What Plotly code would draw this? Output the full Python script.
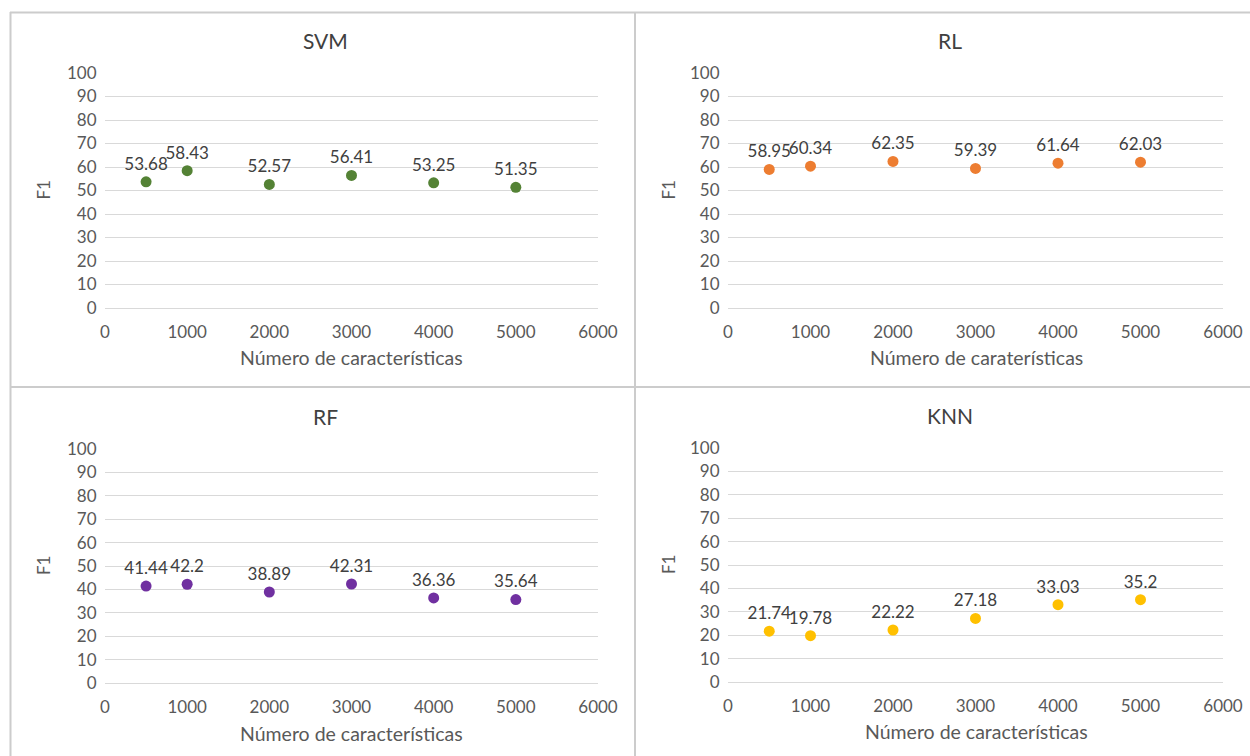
import plotly.graph_objects as go

W, H = 1250, 756

features = [500, 1000, 2000, 3000, 4000, 5000]
svm_f1 = [53.68, 58.43, 52.57, 56.41, 53.25, 51.35]
rl_f1 = [58.95, 60.34, 62.35, 59.39, 61.64, 62.03]
rf_f1 = [41.44, 42.2, 38.89, 42.31, 36.36, 35.64]
knn_f1 = [21.74, 19.78, 22.22, 27.18, 33.03, 35.2]

titles = ["SVM", "RL", "RF", "KNN"]
xtitles = ["Número de características", "Número de caraterísticas",
           "Número de características", "Número de características"]
ytitle = "F1"
colors = ["#548235", "#ED7D31", "#7030A0", "#FFC000"]
series = [svm_f1, rl_f1, rf_f1, knn_f1]

FONT = "Lato, Open Sans, sans-serif"
TICK_COLOR = "#595959"
GRID = "#d9d9d9"


def px_x(p):
    return p / W


def px_y(p):
    return 1 - p / H


# plot areas in pixels: (x0, x1, ytop, ybottom)
areas = [
    (105, 598, 73, 308),
    (728, 1223, 73, 308),
    (105, 598, 449, 683),
    (728, 1223, 448, 682),
]
# title / axis-title pixel positions: (title_x, title_y, xtitle_x, xtitle_y, ytitle_x)
labels_pos = [
    (325, 41, 351, 357, 43),
    (950, 41, 976, 357, 668),
    (325, 416, 351, 733, 43),
    (950, 415, 976, 731, 668),
]

fig = go.Figure()
annotations = []
layout_axes = {}
for i in range(4):
    n = "" if i == 0 else str(i + 1)
    x0, x1, yt, yb = areas[i]
    fig.add_trace(go.Scatter(
        x=features, y=series[i], mode="markers+text",
        text=[f"{v:g}" for v in series[i]], textposition="top center",
        textfont=dict(family=FONT, size=17, color="#404040"),
        marker=dict(size=11, color=colors[i]),
        xaxis="x" + n, yaxis="y" + n, showlegend=False, cliponaxis=False,
        hoverinfo="x+y",
    ))
    layout_axes["xaxis" + n] = dict(
        domain=[px_x(x0), px_x(x1)], anchor="y" + n, automargin=False,
        range=[0, 6000], dtick=1000, tick0=0, showgrid=False, zeroline=False,
        showline=False, ticks="outside", ticklen=9, tickcolor="rgba(0,0,0,0)",
        tickfont=dict(family=FONT, size=17, color=TICK_COLOR),
    )
    layout_axes["yaxis" + n] = dict(
        domain=[px_y(yb), px_y(yt)], anchor="x" + n, automargin=False,
        range=[0, 100], dtick=10, tick0=0, showgrid=True, gridcolor=GRID,
        gridwidth=1, zeroline=True, zerolinecolor=GRID, zerolinewidth=1,
        showline=False, ticks="outside", ticklen=4, tickcolor="rgba(0,0,0,0)",
        tickfont=dict(family=FONT, size=17, color=TICK_COLOR),
    )
    tx, ty, xtx, xty, ytx = labels_pos[i]
    annotations.append(dict(
        x=px_x(tx), y=px_y(ty), xref="paper", yref="paper", text=titles[i],
        showarrow=False, font=dict(family=FONT, size=21, color="#404040"),
        xanchor="center", yanchor="middle"))
    annotations.append(dict(
        x=px_x(xtx), y=px_y(xty), xref="paper", yref="paper",
        text=xtitles[i], showarrow=False,
        font=dict(family=FONT, size=19.5, color=TICK_COLOR),
        xanchor="center", yanchor="middle"))
    annotations.append(dict(
        x=px_x(ytx), y=px_y((yt + yb) / 2), xref="paper", yref="paper",
        text=ytitle, showarrow=False, textangle=-90,
        font=dict(family=FONT, size=17, color=TICK_COLOR),
        xanchor="center", yanchor="middle"))

border = dict(color="#cccccc", width=2)
shapes = [
    dict(type="line", xref="paper", yref="paper", x0=px_x(10), x1=1,
         y0=px_y(12.5), y1=px_y(12.5), line=border),
    dict(type="line", xref="paper", yref="paper", x0=px_x(10.5), x1=px_x(10.5),
         y0=px_y(12), y1=0, line=border),
    dict(type="line", xref="paper", yref="paper", x0=px_x(635), x1=px_x(635),
         y0=px_y(12), y1=0, line=border),
    dict(type="line", xref="paper", yref="paper", x0=px_x(10), x1=1,
         y0=px_y(387), y1=px_y(387), line=border),
]

fig.update_layout(
    template="none",
    width=W, height=H, margin=dict(l=0, r=0, t=0, b=0, pad=0),
    paper_bgcolor="white", plot_bgcolor="white",
    annotations=annotations, shapes=shapes, showlegend=False,
    **layout_axes,
)

fig.write_html(
    "out.html",
    config={"displayModeBar": False},
    post_script="document.body.style.margin='0';"
                "document.body.style.overflow='hidden';",
)
